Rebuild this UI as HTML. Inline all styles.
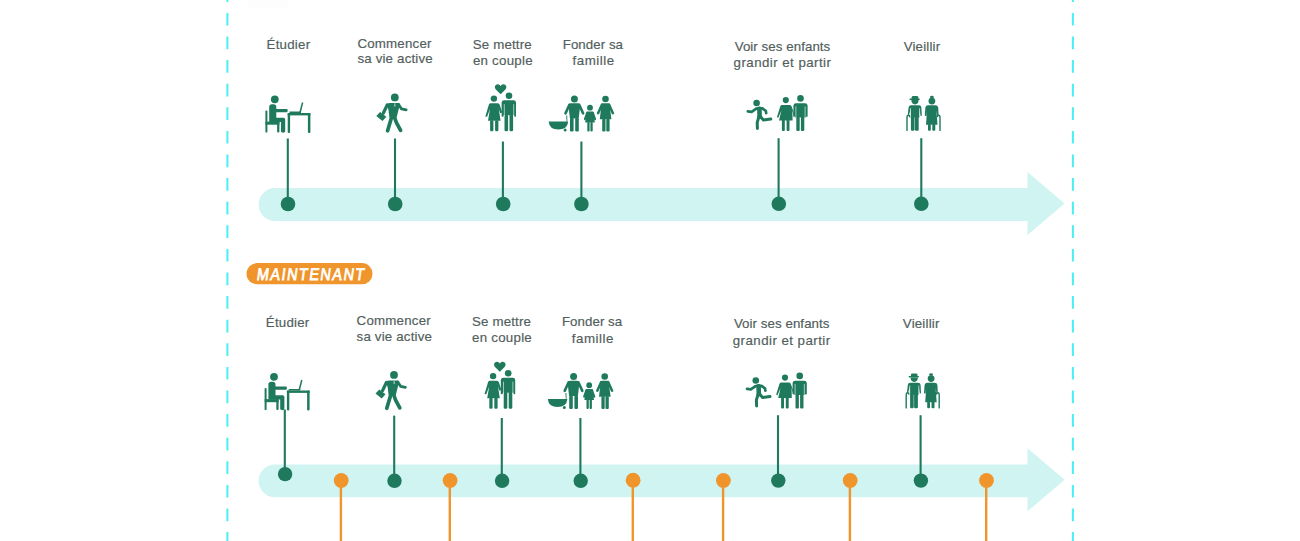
<!DOCTYPE html>
<html><head><meta charset="utf-8">
<style>
html,body{margin:0;padding:0;background:#fff;width:1300px;height:541px;overflow:hidden;}
svg{position:absolute;left:0;top:0;display:block;}
.lb{font-family:"Liberation Sans",sans-serif;font-size:13.3px;fill:#52605d;stroke:#52605d;stroke-width:0.18px;}
</style></head><body>
<svg width="1300" height="541" viewBox="0 0 1300 541">
<rect x="248" y="0" width="40" height="8" fill="#fdfdfd"/>
<g stroke="#48f0f3" stroke-width="2">
  <line x1="227.4" y1="-10.7" x2="227.4" y2="560" stroke-dasharray="12.7 10.9"/>
  <line x1="1072.9" y1="-10.7" x2="1072.9" y2="560" stroke-dasharray="12.7 10.9"/>
</g>
<path d="M275.05,188.10 H1027.5 V172.00 L1064.6,203.50 L1027.5,235.00 V221.00 H275.05 A16.45,16.45 0 0 1 275.05,188.10 Z" fill="#d0f4f1"/>
<g stroke="#1f7a5d" stroke-width="2.1">
<line x1="287.8" y1="138.5" x2="287.8" y2="204"/>
<line x1="395" y1="138.5" x2="395" y2="204"/>
<line x1="502.9" y1="141.5" x2="502.9" y2="204"/>
<line x1="581.4" y1="141.5" x2="581.4" y2="204"/>
<line x1="778.6" y1="138.2" x2="778.6" y2="204"/>
<line x1="921.3" y1="138.2" x2="921.3" y2="204"/>
</g>
<g fill="#1f7a5d">
<circle cx="288" cy="204" r="7.3"/>
<circle cx="395.2" cy="204" r="7.3"/>
<circle cx="503.2" cy="204" r="7.3"/>
<circle cx="581.4" cy="204" r="7.3"/>
<circle cx="778.8" cy="203.8" r="7.3"/>
<circle cx="921.3" cy="203.8" r="7.3"/>
</g>
<!-- icons -->
  <g fill="#1f7a5d" stroke="none">
    <!-- 1 study -->
    <circle cx="274.8" cy="99.3" r="3.9"/>
    <path d="M269.2,107 Q269.2,104.2 272,104.2 H273.6 Q276.3,104.2 276.3,107 V109 H287.2 Q288.4,110.6 287.2,112.2 H276.3 V117.7 H283.5 Q285.2,117.7 285.2,119.4 V131.3 Q285.2,132.7 283.1,132.7 Q281,132.7 281,131.3 V121.9 H269.2 Z"/>
    <rect x="265.4" y="110.6" width="2" height="22" rx="0.9"/>
    <rect x="265.5" y="121.6" width="13.9" height="3.1"/>
    <rect x="277.1" y="121.6" width="2.3" height="11" rx="1"/>
    <rect x="287.7" y="113" width="22.7" height="2.4"/>
    <rect x="287.7" y="113" width="2.4" height="20" rx="1.1"/>
    <rect x="307.9" y="113" width="2.5" height="20" rx="1.1"/>
    <rect x="289.5" y="111.5" width="11.5" height="1.6"/>
    <path d="M299.2,112.5 L301.9,102.3 L303.3,102.7 L300.8,112.8 Z"/>
    <!-- 2 walker -->
    <circle cx="394.8" cy="97.4" r="3.9"/>
    <path d="M386.6,104.6 Q387.6,103.3 389.6,103 L398,102.9 Q399.4,103 400,104 L396.6,117.6 H389.4 L388.4,109.6 Z"/>
    <g stroke="#1f7a5d" stroke-linecap="round" stroke-linejoin="round" fill="none">
      <path d="M387.2,105 L383.4,113" stroke-width="3.2"/>
      <path d="M398.6,104.4 L401.4,108.8 L406.2,109.8" stroke-width="2.8"/>
      <path d="M391.6,117.2 L387.6,130.8" stroke-width="3.7"/>
      <path d="M394.4,117.2 L396.4,122.6 L400.6,130.4" stroke-width="3.7"/>
    </g>
    <path d="M376.3,116 L380.1,112 L386.3,116.8 L382.5,120.9 Z"/>
    <path d="M394.6,103.2 L395.2,103.2 L395.3,106.2 L394.9,106.8 L394.5,106.2 Z" fill="#fff"/>
    <!-- 3 couple + heart -->
    <path d="M500.6,94.2 L495.8,89.4 Q494.3,87.8 495,86 Q496,84 498,84.2 Q499.6,84.4 500.6,86 Q501.6,84.4 503.2,84.2 Q505.4,84 506.2,86 Q506.9,87.8 505.4,89.4 Z"/>
    <circle cx="493.9" cy="98.6" r="3.2"/>
    <path d="M488.9,104.6 Q489.4,103.3 490.8,103.3 H497.4 Q498.8,103.3 499.6,104.6 L502.2,112.6 L500.2,113.2 L498.8,108.9 L500.6,120.8 H488 L490,108.9 L487.2,116.4 Q486.4,117.2 485.4,116.5 L485.7,115.2 Z"/>
    <rect x="490.1" y="120.2" width="3.3" height="11" rx="1.2"/>
    <rect x="495.1" y="120.2" width="3.3" height="11" rx="1.2"/>
    <circle cx="509" cy="95.8" r="3.3"/>
    <path d="M501.6,102.6 Q501.8,100.2 504.2,100.2 H513.6 Q516,100.2 516,102.6 V116.2 Q515.2,117.2 514.2,116.2 V115.2 H503.6 V116.2 Q502.6,117.2 501.6,116.2 Z"/>
    <rect x="504.5" y="114.6" width="3.6" height="16.6" rx="1.3"/>
    <rect x="509.5" y="114.6" width="3.6" height="16.6" rx="1.3"/>
    <!-- 4 family with cradle -->
    <path d="M548.6,121.5 H568.2 Q567.4,129.6 558.4,129.6 Q549.4,129.6 548.6,121.5 Z"/>
    <circle cx="565.1" cy="130.1" r="1.5"/>
    <path d="M566.2,115.4 L567.2,115.4 L567.4,121.6 L566.6,121.6 Z"/>
    <circle cx="574.4" cy="99" r="3.5"/>
    <path d="M568.4,105.4 Q568.6,103.2 570.8,103.2 H577.8 Q580,103.2 580.2,105.4 L578.7,118.6 H569.9 Z"/>
    <rect x="570" y="118" width="3.6" height="13.5" rx="1.2"/>
    <rect x="575.2" y="118" width="3.6" height="13.5" rx="1.2"/>
    <circle cx="590" cy="107.7" r="2.9"/>
    <path d="M586.4,112.8 Q586.8,111.6 588,111.6 H592 Q593.2,111.6 593.6,112.8 L594.8,122.6 H585.2 Z"/>
    <rect x="587.3" y="122" width="2.3" height="9.5" rx="0.9"/>
    <rect x="590.4" y="122" width="2.3" height="9.5" rx="0.9"/>
    <circle cx="605.5" cy="99" r="3.3"/>
    <path d="M601.4,104.6 Q601.8,103.2 603.2,103.2 H607.8 Q609.2,103.2 609.6,104.6 L611.4,119.3 H599.8 Z"/>
    <rect x="602.2" y="118.8" width="3.3" height="12.7" rx="1.1"/>
    <rect x="606.3" y="118.8" width="3.3" height="12.7" rx="1.1"/>
    <g stroke="#1f7a5d" stroke-linecap="round" fill="none">
      <path d="M569.4,104.8 L565.5,113.4" stroke-width="2.6"/>
      <path d="M579.2,104.8 L583.1,113.4" stroke-width="2.6"/>
      <path d="M587.2,112.6 L584.9,119.2" stroke-width="2"/>
      <path d="M592.8,112.6 L595.1,119.2" stroke-width="2"/>
      <path d="M602,104.6 L598.1,113.2" stroke-width="2.5"/>
      <path d="M609,104.6 L612.9,113.2" stroke-width="2.5"/>
    </g>
    <!-- 5 kid + couple -->
    <circle cx="756.6" cy="103" r="3.3"/>
    <g stroke="#1f7a5d" stroke-linecap="round" stroke-linejoin="round" fill="none">
      <path d="M759.4,108.8 L759.6,116.8" stroke-width="4.6"/>
      <path d="M756.2,108.6 Q759.4,107.4 762.6,108.4" stroke-width="2.6"/>
      <path d="M756,108.8 L751.6,111.8 L747.8,111.4" stroke-width="2.7"/>
      <path d="M762.6,108.6 L765.8,110.8 L766.2,113.2" stroke-width="2.7"/>
      <path d="M758.8,117 L757.2,122.6 L757.4,128.4" stroke-width="3"/>
      <path d="M760.4,116.6 L763.4,120 L770.8,119" stroke-width="3"/>
    </g>
    <circle cx="785.8" cy="100.1" r="3.1"/>
    <path d="M780.2,106.4 Q780.7,105 782.2,105 H789.6 Q791.1,105 791.6,106.4 L794,113 L794,117 L792.4,110.6 L792.6,120.4 H779 L781.4,110.6 L778.4,117.6 Q777.3,118 777,116.9 Z"/>
    <rect x="781.9" y="119.8" width="2.9" height="11.2" rx="1"/>
    <rect x="786.6" y="119.8" width="2.9" height="11.2" rx="1"/>
    <circle cx="800.5" cy="98.4" r="3.3"/>
    <path d="M793.4,105.6 Q793.6,103.2 796,103.2 H805 Q807.4,103.2 807.6,105.6 V116.6 Q806.9,117.4 806,116.6 V117.6 H795 V116.6 Q794.1,117.4 793.4,116.6 Z"/>
    <rect x="796.3" y="116.8" width="3.4" height="14.2" rx="1.1"/>
    <rect x="800.9" y="116.8" width="3.4" height="14.2" rx="1.1"/>
    <!-- 6 old couple -->
    <rect x="909.4" y="98.6" width="10.4" height="1.4" rx="0.7"/>
    <path d="M911.7,99.2 V97.2 Q911.8,95.9 913.2,95.9 H916.8 Q918.2,95.9 918.3,97.2 V99.2 Z"/>
    <path d="M911.4,100 H918.6 Q918.6,104.4 915,104.4 Q911.4,104.4 911.4,100 Z"/>
    <path d="M908.6,107.6 Q908.8,105.2 911.2,105.2 H918.8 Q921.2,105.2 921.4,107.6 L921.8,115.2 Q921.6,116.2 920.5,116.1 L919.6,109 V117.2 H910.6 V109 L909.2,114.6 Q908.4,115.2 907.8,114.4 Z"/>
    <rect x="910.9" y="116" width="3.6" height="14.8" rx="1.2"/>
    <rect x="914.9" y="116" width="3.8" height="14.8" rx="1.2"/>
    <g stroke="#1f7a5d" stroke-linecap="round" fill="none" stroke-width="1.4">
      <path d="M907,130.4 V117 Q907,115.3 908.6,115.3 Q909.6,115.4 909.7,116.6"/>
      <path d="M940,130.4 V117 Q940,115.3 938.4,115.3 Q937.4,115.4 937.3,116.6"/>
    </g>
    <ellipse cx="931.9" cy="97.1" rx="1.9" ry="1.4"/>
    <circle cx="931.9" cy="101.1" r="3.4"/>
    <path d="M925.4,107.6 Q925.7,105.2 928.2,105.2 H935.4 Q937.9,105.2 938.2,107.6 L938.6,115.2 Q938.4,116.2 937.3,116.1 L936.4,110.6 L937.5,124.8 H926 L927,110.6 L926.3,116.1 Q925.2,116.2 924.8,115.2 Z"/>
    <rect x="928" y="124" width="2.8" height="6.8" rx="1"/>
    <rect x="932.3" y="124" width="3" height="6.8" rx="1"/>
    <g stroke="#fff" stroke-width="0.6" fill="none">
      <path d="M504.3,104.2 V116.4"/><path d="M513.7,104.2 V116.4"/>
      <path d="M795.9,106.4 V117.6"/><path d="M805.1,106.4 V117.6"/>
      <path d="M910.5,108 V116.6"/><path d="M919.6,108 V116.6"/>
    </g>
  </g>

<path d="M275.05,464.40 H1027.5 V448.30 L1064.6,479.80 L1027.5,511.30 V497.30 H275.05 A16.45,16.45 0 0 1 275.05,464.40 Z" fill="#d0f4f1"/>
<g stroke="#1f7a5d" stroke-width="2.1">
<line x1="284.8" y1="409.5" x2="284.8" y2="474.1"/>
<line x1="394.2" y1="415.6" x2="394.2" y2="480.8"/>
<line x1="501.8" y1="418.0" x2="501.8" y2="480.8"/>
<line x1="580.4" y1="418.0" x2="580.4" y2="480.8"/>
<line x1="778.0" y1="415.2" x2="778.0" y2="480.6"/>
<line x1="920.6" y1="415.2" x2="920.6" y2="480.6"/>
</g>
<g fill="#1f7a5d">
<circle cx="285.1" cy="474.1" r="7.2"/>
<circle cx="394.5" cy="480.8" r="7.2"/>
<circle cx="502.1" cy="480.8" r="7.2"/>
<circle cx="580.6999999999999" cy="480.8" r="7.2"/>
<circle cx="778.3" cy="480.6" r="7.2"/>
<circle cx="920.9" cy="480.6" r="7.2"/>
</g>
<g stroke="#f0952c" stroke-width="2.4">
<line x1="340.9" y1="480.4" x2="340.9" y2="560"/>
<line x1="449.8" y1="480.4" x2="449.8" y2="560"/>
<line x1="632.8000000000001" y1="480.2" x2="632.8000000000001" y2="560"/>
<line x1="723.1" y1="480.4" x2="723.1" y2="560"/>
<line x1="849.9000000000001" y1="480.4" x2="849.9000000000001" y2="560"/>
<line x1="986.2" y1="480.4" x2="986.2" y2="560"/>
</g>
<g fill="#f0952c">
<circle cx="341.2" cy="480.4" r="7.4"/>
<circle cx="450.1" cy="480.4" r="7.4"/>
<circle cx="633.1" cy="480.2" r="7.4"/>
<circle cx="723.4" cy="480.4" r="7.4"/>
<circle cx="850.2" cy="480.4" r="7.4"/>
<circle cx="986.5" cy="480.4" r="7.4"/>
</g>
<g transform="translate(-0.8,277.5)"><!-- icons -->
  <g fill="#1f7a5d" stroke="none">
    <!-- 1 study -->
    <circle cx="274.8" cy="99.3" r="3.9"/>
    <path d="M269.2,107 Q269.2,104.2 272,104.2 H273.6 Q276.3,104.2 276.3,107 V109 H287.2 Q288.4,110.6 287.2,112.2 H276.3 V117.7 H283.5 Q285.2,117.7 285.2,119.4 V131.3 Q285.2,132.7 283.1,132.7 Q281,132.7 281,131.3 V121.9 H269.2 Z"/>
    <rect x="265.4" y="110.6" width="2" height="22" rx="0.9"/>
    <rect x="265.5" y="121.6" width="13.9" height="3.1"/>
    <rect x="277.1" y="121.6" width="2.3" height="11" rx="1"/>
    <rect x="287.7" y="113" width="22.7" height="2.4"/>
    <rect x="287.7" y="113" width="2.4" height="20" rx="1.1"/>
    <rect x="307.9" y="113" width="2.5" height="20" rx="1.1"/>
    <rect x="289.5" y="111.5" width="11.5" height="1.6"/>
    <path d="M299.2,112.5 L301.9,102.3 L303.3,102.7 L300.8,112.8 Z"/>
    <!-- 2 walker -->
    <circle cx="394.8" cy="97.4" r="3.9"/>
    <path d="M386.6,104.6 Q387.6,103.3 389.6,103 L398,102.9 Q399.4,103 400,104 L396.6,117.6 H389.4 L388.4,109.6 Z"/>
    <g stroke="#1f7a5d" stroke-linecap="round" stroke-linejoin="round" fill="none">
      <path d="M387.2,105 L383.4,113" stroke-width="3.2"/>
      <path d="M398.6,104.4 L401.4,108.8 L406.2,109.8" stroke-width="2.8"/>
      <path d="M391.6,117.2 L387.6,130.8" stroke-width="3.7"/>
      <path d="M394.4,117.2 L396.4,122.6 L400.6,130.4" stroke-width="3.7"/>
    </g>
    <path d="M376.3,116 L380.1,112 L386.3,116.8 L382.5,120.9 Z"/>
    <path d="M394.6,103.2 L395.2,103.2 L395.3,106.2 L394.9,106.8 L394.5,106.2 Z" fill="#fff"/>
    <!-- 3 couple + heart -->
    <path d="M500.6,94.2 L495.8,89.4 Q494.3,87.8 495,86 Q496,84 498,84.2 Q499.6,84.4 500.6,86 Q501.6,84.4 503.2,84.2 Q505.4,84 506.2,86 Q506.9,87.8 505.4,89.4 Z"/>
    <circle cx="493.9" cy="98.6" r="3.2"/>
    <path d="M488.9,104.6 Q489.4,103.3 490.8,103.3 H497.4 Q498.8,103.3 499.6,104.6 L502.2,112.6 L500.2,113.2 L498.8,108.9 L500.6,120.8 H488 L490,108.9 L487.2,116.4 Q486.4,117.2 485.4,116.5 L485.7,115.2 Z"/>
    <rect x="490.1" y="120.2" width="3.3" height="11" rx="1.2"/>
    <rect x="495.1" y="120.2" width="3.3" height="11" rx="1.2"/>
    <circle cx="509" cy="95.8" r="3.3"/>
    <path d="M501.6,102.6 Q501.8,100.2 504.2,100.2 H513.6 Q516,100.2 516,102.6 V116.2 Q515.2,117.2 514.2,116.2 V115.2 H503.6 V116.2 Q502.6,117.2 501.6,116.2 Z"/>
    <rect x="504.5" y="114.6" width="3.6" height="16.6" rx="1.3"/>
    <rect x="509.5" y="114.6" width="3.6" height="16.6" rx="1.3"/>
    <!-- 4 family with cradle -->
    <path d="M548.6,121.5 H568.2 Q567.4,129.6 558.4,129.6 Q549.4,129.6 548.6,121.5 Z"/>
    <circle cx="565.1" cy="130.1" r="1.5"/>
    <path d="M566.2,115.4 L567.2,115.4 L567.4,121.6 L566.6,121.6 Z"/>
    <circle cx="574.4" cy="99" r="3.5"/>
    <path d="M568.4,105.4 Q568.6,103.2 570.8,103.2 H577.8 Q580,103.2 580.2,105.4 L578.7,118.6 H569.9 Z"/>
    <rect x="570" y="118" width="3.6" height="13.5" rx="1.2"/>
    <rect x="575.2" y="118" width="3.6" height="13.5" rx="1.2"/>
    <circle cx="590" cy="107.7" r="2.9"/>
    <path d="M586.4,112.8 Q586.8,111.6 588,111.6 H592 Q593.2,111.6 593.6,112.8 L594.8,122.6 H585.2 Z"/>
    <rect x="587.3" y="122" width="2.3" height="9.5" rx="0.9"/>
    <rect x="590.4" y="122" width="2.3" height="9.5" rx="0.9"/>
    <circle cx="605.5" cy="99" r="3.3"/>
    <path d="M601.4,104.6 Q601.8,103.2 603.2,103.2 H607.8 Q609.2,103.2 609.6,104.6 L611.4,119.3 H599.8 Z"/>
    <rect x="602.2" y="118.8" width="3.3" height="12.7" rx="1.1"/>
    <rect x="606.3" y="118.8" width="3.3" height="12.7" rx="1.1"/>
    <g stroke="#1f7a5d" stroke-linecap="round" fill="none">
      <path d="M569.4,104.8 L565.5,113.4" stroke-width="2.6"/>
      <path d="M579.2,104.8 L583.1,113.4" stroke-width="2.6"/>
      <path d="M587.2,112.6 L584.9,119.2" stroke-width="2"/>
      <path d="M592.8,112.6 L595.1,119.2" stroke-width="2"/>
      <path d="M602,104.6 L598.1,113.2" stroke-width="2.5"/>
      <path d="M609,104.6 L612.9,113.2" stroke-width="2.5"/>
    </g>
    <!-- 5 kid + couple -->
    <circle cx="756.6" cy="103" r="3.3"/>
    <g stroke="#1f7a5d" stroke-linecap="round" stroke-linejoin="round" fill="none">
      <path d="M759.4,108.8 L759.6,116.8" stroke-width="4.6"/>
      <path d="M756.2,108.6 Q759.4,107.4 762.6,108.4" stroke-width="2.6"/>
      <path d="M756,108.8 L751.6,111.8 L747.8,111.4" stroke-width="2.7"/>
      <path d="M762.6,108.6 L765.8,110.8 L766.2,113.2" stroke-width="2.7"/>
      <path d="M758.8,117 L757.2,122.6 L757.4,128.4" stroke-width="3"/>
      <path d="M760.4,116.6 L763.4,120 L770.8,119" stroke-width="3"/>
    </g>
    <circle cx="785.8" cy="100.1" r="3.1"/>
    <path d="M780.2,106.4 Q780.7,105 782.2,105 H789.6 Q791.1,105 791.6,106.4 L794,113 L794,117 L792.4,110.6 L792.6,120.4 H779 L781.4,110.6 L778.4,117.6 Q777.3,118 777,116.9 Z"/>
    <rect x="781.9" y="119.8" width="2.9" height="11.2" rx="1"/>
    <rect x="786.6" y="119.8" width="2.9" height="11.2" rx="1"/>
    <circle cx="800.5" cy="98.4" r="3.3"/>
    <path d="M793.4,105.6 Q793.6,103.2 796,103.2 H805 Q807.4,103.2 807.6,105.6 V116.6 Q806.9,117.4 806,116.6 V117.6 H795 V116.6 Q794.1,117.4 793.4,116.6 Z"/>
    <rect x="796.3" y="116.8" width="3.4" height="14.2" rx="1.1"/>
    <rect x="800.9" y="116.8" width="3.4" height="14.2" rx="1.1"/>
    <!-- 6 old couple -->
    <rect x="909.4" y="98.6" width="10.4" height="1.4" rx="0.7"/>
    <path d="M911.7,99.2 V97.2 Q911.8,95.9 913.2,95.9 H916.8 Q918.2,95.9 918.3,97.2 V99.2 Z"/>
    <path d="M911.4,100 H918.6 Q918.6,104.4 915,104.4 Q911.4,104.4 911.4,100 Z"/>
    <path d="M908.6,107.6 Q908.8,105.2 911.2,105.2 H918.8 Q921.2,105.2 921.4,107.6 L921.8,115.2 Q921.6,116.2 920.5,116.1 L919.6,109 V117.2 H910.6 V109 L909.2,114.6 Q908.4,115.2 907.8,114.4 Z"/>
    <rect x="910.9" y="116" width="3.6" height="14.8" rx="1.2"/>
    <rect x="914.9" y="116" width="3.8" height="14.8" rx="1.2"/>
    <g stroke="#1f7a5d" stroke-linecap="round" fill="none" stroke-width="1.4">
      <path d="M907,130.4 V117 Q907,115.3 908.6,115.3 Q909.6,115.4 909.7,116.6"/>
      <path d="M940,130.4 V117 Q940,115.3 938.4,115.3 Q937.4,115.4 937.3,116.6"/>
    </g>
    <ellipse cx="931.9" cy="97.1" rx="1.9" ry="1.4"/>
    <circle cx="931.9" cy="101.1" r="3.4"/>
    <path d="M925.4,107.6 Q925.7,105.2 928.2,105.2 H935.4 Q937.9,105.2 938.2,107.6 L938.6,115.2 Q938.4,116.2 937.3,116.1 L936.4,110.6 L937.5,124.8 H926 L927,110.6 L926.3,116.1 Q925.2,116.2 924.8,115.2 Z"/>
    <rect x="928" y="124" width="2.8" height="6.8" rx="1"/>
    <rect x="932.3" y="124" width="3" height="6.8" rx="1"/>
    <g stroke="#fff" stroke-width="0.6" fill="none">
      <path d="M504.3,104.2 V116.4"/><path d="M513.7,104.2 V116.4"/>
      <path d="M795.9,106.4 V117.6"/><path d="M805.1,106.4 V117.6"/>
      <path d="M910.5,108 V116.6"/><path d="M919.6,108 V116.6"/>
    </g>
  </g>
</g>
<g class="lb">
<text x="266.61" y="49.30" textLength="43.50" lengthAdjust="spacing">Étudier</text>
<text x="357.39" y="47.60" textLength="74.11" lengthAdjust="spacing">Commencer</text>
<text x="357.41" y="63.30" textLength="75.26" lengthAdjust="spacing">sa vie active</text>
<text x="472.83" y="48.70" textLength="58.85" lengthAdjust="spacing">Se mettre</text>
<text x="472.88" y="64.90" textLength="59.69" lengthAdjust="spacing">en couple</text>
<text x="562.73" y="48.70" textLength="60.29" lengthAdjust="spacing">Fonder sa</text>
<text x="572.60" y="65.20" textLength="41.65" lengthAdjust="spacing">famille</text>
<text x="734.69" y="50.60" textLength="95.57" lengthAdjust="spacing">Voir ses enfants</text>
<text x="733.55" y="67.30" textLength="97.42" lengthAdjust="spacing">grandir et partir</text>
<text x="903.65" y="50.90" textLength="36.50" lengthAdjust="spacing">Vieillir</text>
</g>
<g class="lb">
<text x="265.81" y="326.70" textLength="43.50" lengthAdjust="spacing">Étudier</text>
<text x="356.59" y="325.00" textLength="74.11" lengthAdjust="spacing">Commencer</text>
<text x="356.61" y="340.70" textLength="75.26" lengthAdjust="spacing">sa vie active</text>
<text x="472.03" y="326.10" textLength="58.85" lengthAdjust="spacing">Se mettre</text>
<text x="472.08" y="342.30" textLength="59.69" lengthAdjust="spacing">en couple</text>
<text x="561.93" y="326.10" textLength="60.29" lengthAdjust="spacing">Fonder sa</text>
<text x="571.80" y="342.60" textLength="41.65" lengthAdjust="spacing">famille</text>
<text x="733.89" y="328.00" textLength="95.57" lengthAdjust="spacing">Voir ses enfants</text>
<text x="732.75" y="344.70" textLength="97.42" lengthAdjust="spacing">grandir et partir</text>
<text x="902.85" y="328.30" textLength="36.50" lengthAdjust="spacing">Vieillir</text>
</g>
<rect x="246.5" y="263.1" width="126" height="21.2" rx="10.6" fill="#f0952c"/>
<text transform="translate(256.2,280.1) scale(0.86,1) skewX(-9)" x="0" y="0" font-family="Liberation Sans" font-size="16.8" letter-spacing="1.75" fill="#fff" stroke="#fff" stroke-width="0.8">MAINTENANT</text>
</svg>
</body></html>
